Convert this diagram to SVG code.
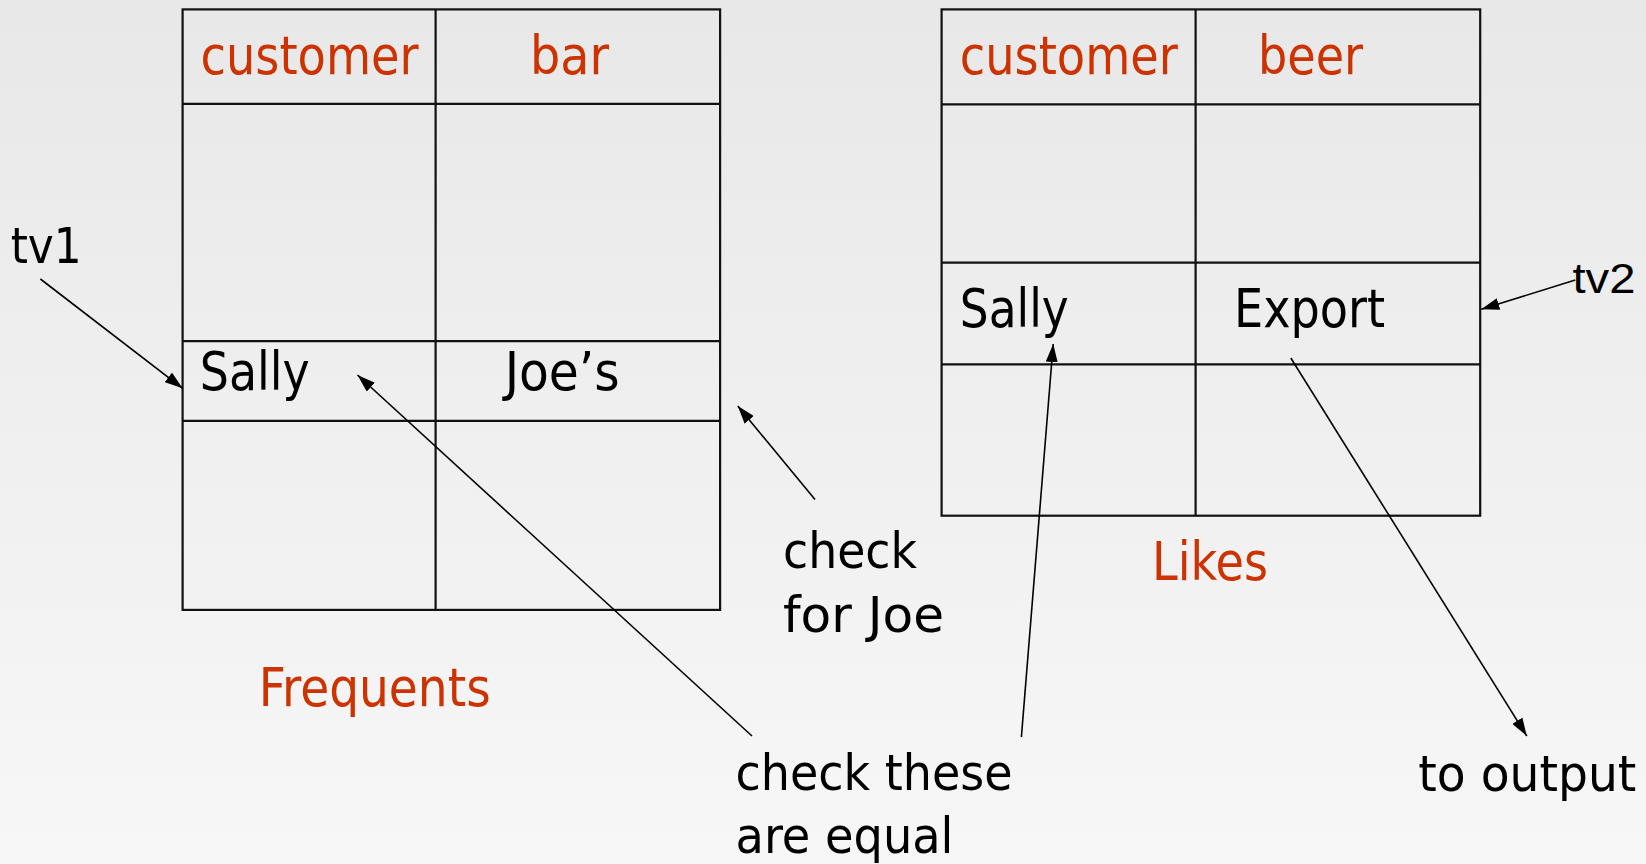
<svg xmlns="http://www.w3.org/2000/svg" width="1646" height="864" viewBox="0 0 1646 864">
<defs>
<linearGradient id="bg" x1="0" y1="0" x2="0" y2="1">
<stop offset="0" stop-color="#e8e8e8"/>
<stop offset="1" stop-color="#f7f7f7"/>
</linearGradient>
<marker id="ah" viewBox="0 0 18 12" refX="18" refY="6" markerWidth="18" markerHeight="12" markerUnits="userSpaceOnUse" orient="auto">
<path d="M0,0 L18,6 L0,12 z" fill="#000"/>
</marker>
<style>
.tbl { fill: none; stroke: #111; stroke-width: 2.2; }
.hd { font-family: 'DejaVu Sans Condensed', 'DejaVu Sans', sans-serif; font-size: 53px; fill: #cc3300; }
.cell { font-family: 'DejaVu Sans Condensed', 'DejaVu Sans', sans-serif; font-size: 53px; fill: #000; }
.lbl { font-family: 'DejaVu Sans Condensed', 'DejaVu Sans', sans-serif; font-size: 50px; fill: #000; }
.conn line { stroke: #000; stroke-width: 1.6; marker-end: url(#ah); }
</style>
</defs>
<rect x="0" y="0" width="1646" height="864" fill="url(#bg)"/>

<g id="frequents-table">
<rect class="tbl" x="182.6" y="9.4" width="537.5" height="600.5"/>
<line class="tbl" x1="435.6" y1="9.4" x2="435.6" y2="609.9"/>
<line class="tbl" x1="182.6" y1="103.9" x2="720.1" y2="103.9"/>
<line class="tbl" x1="182.6" y1="341.2" x2="720.1" y2="341.2"/>
<line class="tbl" x1="182.6" y1="420.9" x2="720.1" y2="420.9"/>
<text class="hd" x="200.5" y="73.5" textLength="218" lengthAdjust="spacingAndGlyphs">customer</text>
<text class="hd" x="530" y="73.5" textLength="79" lengthAdjust="spacingAndGlyphs">bar</text>
<text class="cell" x="199.8" y="390" textLength="110" lengthAdjust="spacingAndGlyphs">Sally</text>
<text class="cell" x="504.7" y="390" textLength="115" lengthAdjust="spacingAndGlyphs">Joe’s</text>
</g>

<g id="frequents-label">
<text class="hd" x="258.7" y="706" textLength="232" lengthAdjust="spacingAndGlyphs">Frequents</text>
</g>

<g id="likes-table">
<rect class="tbl" x="941.6" y="9.4" width="538.6" height="506.3"/>
<line class="tbl" x1="1195.6" y1="9.4" x2="1195.6" y2="515.7"/>
<line class="tbl" x1="941.6" y1="104.3" x2="1480.2" y2="104.3"/>
<line class="tbl" x1="941.6" y1="262.7" x2="1480.2" y2="262.7"/>
<line class="tbl" x1="941.6" y1="364.3" x2="1480.2" y2="364.3"/>
<text class="hd" x="959.8" y="73.5" textLength="218" lengthAdjust="spacingAndGlyphs">customer</text>
<text class="hd" x="1258" y="73.5" textLength="105" lengthAdjust="spacingAndGlyphs">beer</text>
<text class="cell" x="959.8" y="326.7" textLength="109" lengthAdjust="spacingAndGlyphs">Sally</text>
<text class="cell" x="1234" y="326.7" textLength="151" lengthAdjust="spacingAndGlyphs">Export</text>
</g>

<g id="likes-label">
<text class="hd" x="1152" y="580" font-size="54" textLength="116" lengthAdjust="spacingAndGlyphs">Likes</text>
</g>

<g id="tv1">
<text class="lbl" x="10.7" y="263.3" font-size="47" textLength="71" lengthAdjust="spacingAndGlyphs">tv1</text>
</g>

<g id="tv2">
<text x="1572.5" y="292.7" font-family="'Liberation Sans', Arial, sans-serif" font-size="42" fill="#000" textLength="63" lengthAdjust="spacingAndGlyphs">tv2</text>
</g>

<g id="check-for-joe">
<text class="lbl" x="783" y="568.3" textLength="134" lengthAdjust="spacingAndGlyphs">check</text>
<text class="lbl" x="783" y="631.7" textLength="161" lengthAdjust="spacingAndGlyphs">for Joe</text>
</g>

<g id="check-these-equal">
<text class="lbl" x="735.5" y="790" textLength="277" lengthAdjust="spacingAndGlyphs">check these</text>
<text class="lbl" x="735.5" y="853.3" textLength="218" lengthAdjust="spacingAndGlyphs">are equal</text>
</g>

<g id="to-output">
<text class="lbl" x="1418.3" y="790.7" textLength="218" lengthAdjust="spacingAndGlyphs">to output</text>
</g>

<g id="connectors" class="conn">
<line x1="40.4" y1="279" x2="182.6" y2="388.3"/>
<line x1="752" y1="736" x2="357.5" y2="375"/>
<line x1="815" y1="499.5" x2="737.8" y2="406"/>
<line x1="1021.4" y1="737" x2="1053.2" y2="344"/>
<line x1="1290.8" y1="358" x2="1526.8" y2="736"/>
<line x1="1575.3" y1="280" x2="1481.3" y2="309.3"/>
</g>
</svg>
